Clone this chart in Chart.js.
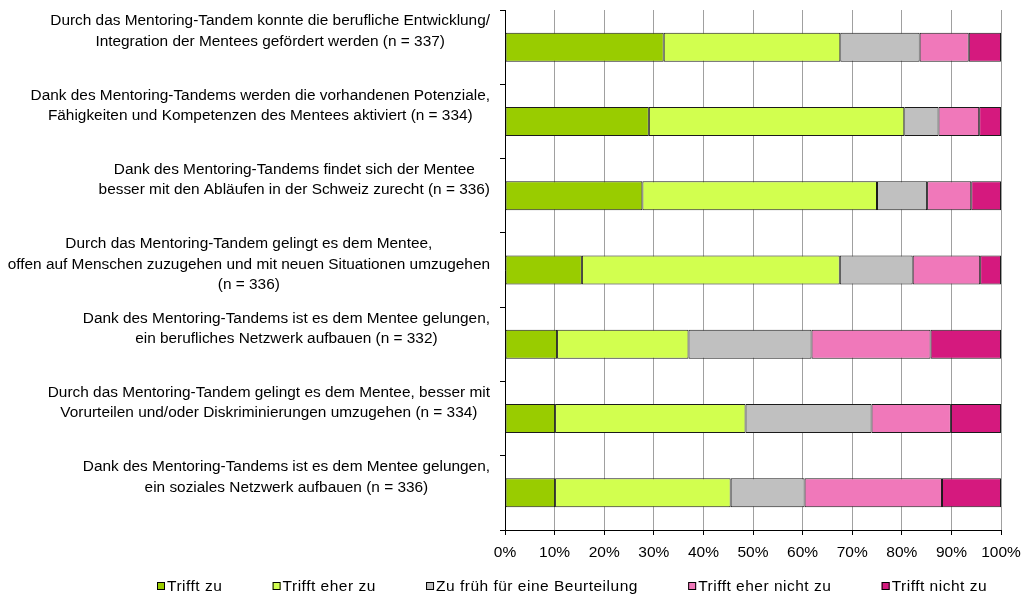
<!DOCTYPE html>
<html><head><meta charset="utf-8">
<script src="https://cdn.jsdelivr.net/npm/chart.js@4/dist/chart.umd.min.js"></script>
<style>html,body{margin:0;padding:0;background:#fff}</style>
</head><body>
<canvas id="c" width="1029" height="595"></canvas>
<script>
const categories = [
  ["Durch das Mentoring-Tandem konnte die berufliche Entwicklung/", "Integration der Mentees gefördert werden (n = 337)"],
  ["Dank des Mentoring-Tandems werden die vorhandenen Potenziale,", "Fähigkeiten und Kompetenzen des Mentees aktiviert (n = 334)"],
  ["Dank des Mentoring-Tandems findet sich der Mentee", "besser mit den Abläufen in der Schweiz zurecht (n = 336)"],
  ["Durch das Mentoring-Tandem gelingt es dem Mentee,", "offen auf Menschen zuzugehen und mit neuen Situationen umzugehen", "(n = 336)"],
  ["Dank des Mentoring-Tandems ist es dem Mentee gelungen,", "ein berufliches Netzwerk aufbauen (n = 332)"],
  ["Durch das Mentoring-Tandem gelingt es dem Mentee, besser mit", "Vorurteilen und/oder Diskriminierungen umzugehen (n = 334)"],
  ["Dank des Mentoring-Tandems ist es dem Mentee gelungen,", "ein soziales Netzwerk aufbauen (n = 336)"]
];
const seriesNames = ["Trifft zu", "Trifft eher zu", "Zu früh für eine Beurteilung", "Trifft eher nicht zu", "Trifft nicht zu"];
const seriesColors = ["#99cc00", "#d2ff4f", "#c0c0c0", "#f078ba", "#d5197e"];
const trifftZu      = [32.0, 29.0, 27.7, 15.5, 10.5, 10.1, 10.1];
const trifftEherZu  = [35.6, 51.5, 47.3, 52.0, 26.5, 38.4, 35.4];
const zuFrueh       = [16.0,  6.9, 10.1, 14.7, 24.8, 25.4, 14.9];
const eherNichtZu   = [ 9.9,  8.2,  8.9, 13.6, 24.0, 16.0, 27.7];
const trifftNichtZu = [ 6.5,  4.4,  6.0,  4.2, 14.2, 10.1, 11.9];
const tickStep = 10;
const tickSuffix = "%";

const FONT = '"Liberation Sans", Arial, sans-serif';
const seriesValues = [trifftZu, trifftEherZu, zuFrueh, eherNichtZu, trifftNichtZu];

const yLabelPlugin = {
  id: 'yLabels',
  afterDraw(chart) {
    const ctx = chart.ctx, ys = chart.scales.y, area = chart.chartArea;
    ctx.save();
    ctx.font = '15.4px ' + FONT;
    ctx.fillStyle = '#000';
    ctx.textAlign = 'center';
    ctx.textBaseline = 'middle';
    categories.forEach((lines, i) => {
      const yc = ys.getPixelForValue(i);
      const w = Math.max(...lines.map(l => ctx.measureText(l).width));
      const cx = area.left - 15 - w / 2;
      lines.forEach((l, k) => ctx.fillText(l, cx, yc - 5.5 + (k - 1) * 20.5));
    });
    ctx.restore();
  }
};

const legendPlugin = {
  id: 'customLegend',
  afterDraw(chart) {
    const ctx = chart.ctx;
    ctx.save();
    ctx.font = '15.5px ' + FONT;
    try { ctx.letterSpacing = '0.5px'; } catch (e) {}
    ctx.textBaseline = 'middle';
    ctx.textAlign = 'left';
    const box = 8, gapText = 2;
    const items = chart.data.datasets.map(d => ({label: d.label, color: d.backgroundColor, w: box + gapText + ctx.measureText(d.label).width}));
    const startX = 157, endX = 987, yc = 586;
    const total = items.reduce((s, it) => s + it.w, 0);
    const gap = (endX - startX - total) / (items.length - 1);
    let x = startX;
    items.forEach(it => {
      ctx.fillStyle = it.color;
      ctx.fillRect(x, yc - box / 2, box, box);
      ctx.strokeStyle = '#000';
      ctx.lineWidth = 1;
      ctx.strokeRect(x + 0.5, yc - box / 2 + 0.5, box - 1, box - 1);
      ctx.fillStyle = '#000';
      ctx.fillText(it.label, x + box + gapText, yc + 1);
      x += it.w + gap;
    });
    ctx.restore();
  }
};

new Chart(document.getElementById('c'), {
  type: 'bar',
  data: {
    labels: categories,
    datasets: seriesNames.map((name, i) => ({
      label: name,
      data: seriesValues[i],
      backgroundColor: seriesColors[i],
      borderColor: '#1a1a1a',
      borderWidth: 1,
      borderSkipped: false,
      barPercentage: 0.39,
      categoryPercentage: 1
    }))
  },
  options: {
    indexAxis: 'y',
    responsive: false,
    animation: false,
    devicePixelRatio: 1,
    layout: { padding: { top: 10, left: 0, right: 28, bottom: 30 } },
    plugins: { legend: { display: false }, tooltip: { enabled: false } },
    scales: {
      x: {
        stacked: true,
        min: 0, max: 100,
        afterFit(s) { s.height = 35; },
        ticks: { stepSize: tickStep, callback: v => v + tickSuffix, color: '#000', font: { family: FONT, size: 15.5 }, padding: 8, maxRotation: 0 },
        grid: { color: '#a0a0a0', lineWidth: 1, tickColor: '#000', tickLength: 5 },
        border: { color: '#000', width: 1 }
      },
      y: {
        stacked: true,
        afterFit(s) { s.width = 505; },
        ticks: { display: false },
        grid: { drawOnChartArea: false, drawTicks: true, tickLength: 5, tickColor: '#000', offset: true },
        border: { color: '#000', width: 1 }
      }
    }
  },
  plugins: [yLabelPlugin, legendPlugin]
});
</script>
</body></html>
